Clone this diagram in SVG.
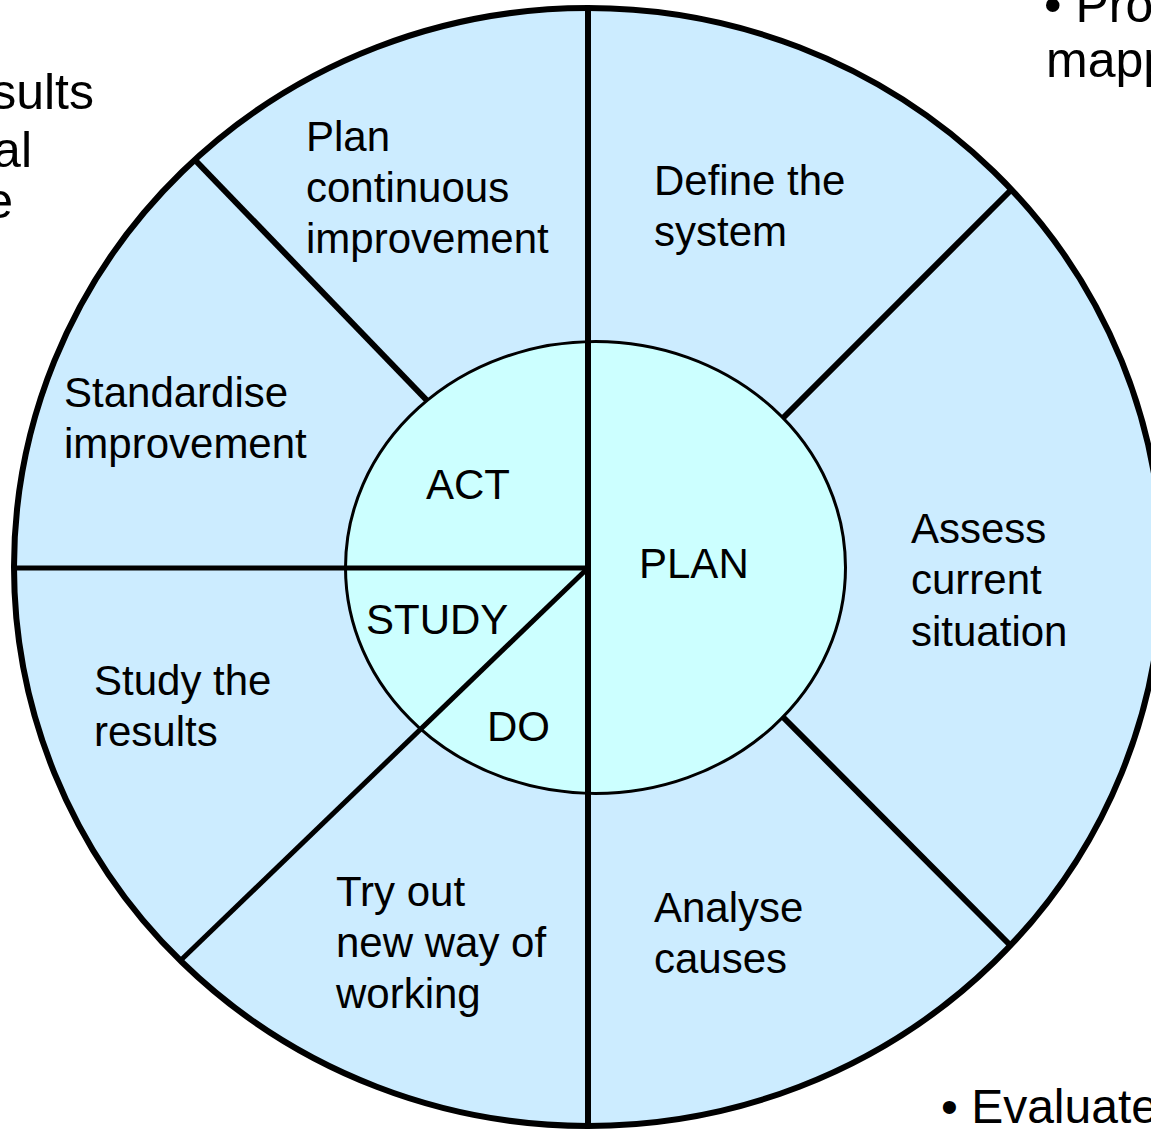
<svg xmlns="http://www.w3.org/2000/svg" width="1151" height="1129" viewBox="0 0 1151 1129">
<style>
.lbl{font-family:"Liberation Sans",Arial,sans-serif;font-size:42px;fill:#000}
.big{font-family:"Liberation Sans",Arial,sans-serif;font-size:50px;fill:#000}
.ln{stroke:#000;stroke-width:6;fill:none}
.lnt{stroke:#000;stroke-width:5;fill:none}
</style>
<rect width="1151" height="1129" fill="#fff"/>
<g id="side-text">
<text class="big" x="94" y="109" text-anchor="end">sults</text>
<text class="big" x="32" y="167" text-anchor="end">al</text>
<text class="big" x="13" y="218" text-anchor="end">e</text>
<text class="big" x="1044" y="22">• Pro</text>
<text class="big" x="1046" y="77">mapp</text>
<text class="big" x="941" y="1123" style="font-size:48px">• Evaluate</text>
</g>
<g id="outer-wheel">
<ellipse cx="588" cy="567" rx="574" ry="559" fill="#CCECFF" stroke="#000" stroke-width="6"/>
</g>
<g id="connectors-outer">
<line class="ln" x1="195" y1="160" x2="440" y2="414"/>
<line class="ln" x1="1010" y1="191" x2="770" y2="431"/>
<line class="ln" x1="1010" y1="945" x2="770" y2="704"/>
</g>
<g id="inner-wheel">
<ellipse cx="595.5" cy="567.5" rx="250" ry="226" fill="#CCFFFF" stroke="#000" stroke-width="3"/>
</g>
<g id="connectors">
<line class="ln" x1="588" y1="8" x2="588" y2="1126"/>
<line class="lnt" x1="14" y1="568" x2="590" y2="568"/>
<line class="lnt" x1="181" y1="960" x2="589" y2="567"/>
</g>
<g id="node-plan-continuous">
<text class="lbl" x="306" y="151">Plan</text>
<text class="lbl" x="306" y="202">continuous</text>
<text class="lbl" x="306" y="253">improvement</text>
</g>
<g id="node-define-system">
<text class="lbl" x="654" y="195">Define the</text>
<text class="lbl" x="654" y="246">system</text>
</g>
<g id="node-standardise">
<text class="lbl" x="64" y="407">Standardise</text>
<text class="lbl" x="64" y="458">improvement</text>
</g>
<g id="node-assess">
<text class="lbl" x="911" y="543">Assess</text>
<text class="lbl" x="911" y="594">current</text>
<text class="lbl" x="911" y="646">situation</text>
</g>
<g id="node-study-results">
<text class="lbl" x="94" y="695">Study the</text>
<text class="lbl" x="94" y="746">results</text>
</g>
<g id="node-try-out">
<text class="lbl" x="336" y="906">Try out</text>
<text class="lbl" x="336" y="957">new way of</text>
<text class="lbl" x="336" y="1008">working</text>
</g>
<g id="node-analyse">
<text class="lbl" x="654" y="922">Analyse</text>
<text class="lbl" x="654" y="973">causes</text>
</g>
<g id="node-act"><text class="lbl" x="426" y="499">ACT</text></g>
<g id="node-plan"><text class="lbl" x="639" y="578">PLAN</text></g>
<g id="node-study"><text class="lbl" x="366" y="634">STUDY</text></g>
<g id="node-do"><text class="lbl" x="487" y="741">DO</text></g>
</svg>
